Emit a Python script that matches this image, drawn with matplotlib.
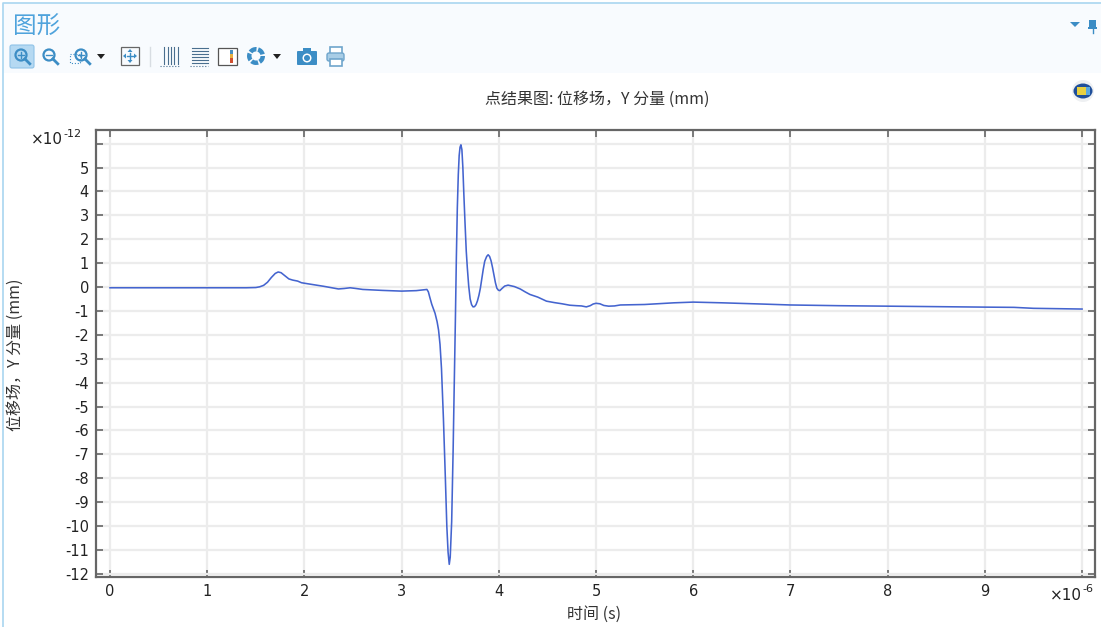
import matplotlib
matplotlib.use("Agg")
import matplotlib.pyplot as plt
from matplotlib.patches import Rectangle, Circle, Polygon, FancyBboxPatch, Ellipse, Wedge

plt.rcParams['font.family'] = ['DejaVu Sans', 'Noto Sans CJK SC']
plt.rcParams['axes.unicode_minus'] = False
CJK = ['Noto Sans CJK SC', 'DejaVu Sans']

# Data: time in units of 1e-6 s, displacement in units of 1e-12 mm
time_us = [0, 0.5, 1.0, 1.4, 1.5, 1.54, 1.58, 1.62, 1.66, 1.7, 1.73, 1.76, 1.8, 1.84, 1.88, 1.93, 1.97, 2.03,
           2.2, 2.35, 2.41, 2.47, 2.53, 2.6, 2.8, 3.0, 3.15, 3.24, 3.26, 3.275, 3.29, 3.31, 3.344, 3.365, 3.38,
           3.395, 3.41, 3.43, 3.45, 3.465, 3.478, 3.49, 3.50, 3.515, 3.53, 3.54, 3.553, 3.563, 3.573,
           3.583, 3.592, 3.601, 3.61, 3.62, 3.63, 3.64, 3.652, 3.665, 3.676, 3.69, 3.705, 3.72, 3.735,
           3.75, 3.765, 3.78, 3.795, 3.81, 3.825, 3.84, 3.855, 3.875, 3.89, 3.905, 3.92, 3.935, 3.95,
           3.965, 3.98, 3.995, 4.01, 4.03, 4.06, 4.095, 4.16, 4.22, 4.27, 4.32, 4.40, 4.49, 4.57, 4.65,
           4.73, 4.8, 4.85, 4.9, 4.94, 4.97, 5.0, 5.04, 5.08, 5.13, 5.19, 5.25,
           5.5, 5.8, 6.0, 6.3, 6.7, 7.0, 7.5, 8.0, 8.5, 9.0, 9.3, 9.5, 10.0]
disp = [-0.03, -0.03, -0.03, -0.03, -0.02, 0.01, 0.07, 0.2, 0.4, 0.57, 0.63, 0.6, 0.47, 0.34, 0.29, 0.25, 0.18, 0.14,
        0.03, -0.08, -0.06, -0.03, -0.06, -0.1, -0.14, -0.17, -0.15, -0.11, -0.1, -0.2, -0.43, -0.72, -1.1, -1.45, -1.8,
        -2.4, -3.4, -5.5, -8.0, -10.0, -11.1, -11.6, -11.3, -9.8, -6.8, -4.4, -1.4, 1.2, 3.3,
        4.7, 5.5, 5.85, 5.95, 5.75, 5.0, 3.9, 2.7, 1.5, 0.8, 0.05, -0.5, -0.74, -0.83,
        -0.82, -0.74, -0.58, -0.35, -0.05, 0.35, 0.75, 1.08, 1.28, 1.35, 1.28, 1.1, 0.82, 0.5,
        0.18, -0.05, -0.13, -0.15, -0.07, 0.04, 0.08, 0.02, -0.08, -0.2, -0.31, -0.42, -0.59, -0.65, -0.7,
        -0.76, -0.78, -0.79, -0.83, -0.78, -0.71, -0.68, -0.7, -0.77, -0.8, -0.79, -0.75,
        -0.73, -0.66, -0.63, -0.66, -0.71, -0.75, -0.78, -0.8, -0.82, -0.84, -0.85, -0.89, -0.92]
x_ticks = list(range(0, 11))
x_tick_labels = [str(v) for v in range(0, 10)] + ['']
y_ticks = list(range(-12, 7))
y_tick_labels = [str(v) for v in range(-12, 6)] + ['']

W, H = 1101, 627
fig = plt.figure(figsize=(W / 100, H / 100), dpi=100, facecolor='white')
L, R, T, B = 96, 1095, 130, 577
ax = fig.add_axes([L / W, 1 - B / H, (R - L) / W, (B - T) / H])
ax.plot(time_us, disp, color='#4464cf', lw=1.15, solid_joinstyle='round', zorder=3)
ax.set_xlim(-0.144, 10.133)
ax.set_ylim(-12.13, 6.57)
ax.set_xticks(x_ticks)
ax.set_xticklabels(x_tick_labels)
ax.set_yticks(y_ticks)
ax.set_yticklabels(y_tick_labels)
ax.grid(True, color='#ececec', lw=1.6, zorder=0)
ax.set_axisbelow(True)
ax.tick_params(direction='in', length=5, width=1.2, color='#666666', top=True, right=True,
               labelsize=10.5, labelcolor='#222222', pad=5)
for s in ax.spines.values():
    s.set_color('#666666')
    s.set_linewidth(1.6)
ax.set_xlabel('时间 (s)', family=CJK, fontsize=11.5, color='#333333')
ax.xaxis.set_label_coords(0.4985, (B - 614) / (B - T), transform=ax.transAxes)
ax.xaxis.label.set_va('center')
ax.set_ylabel('位移场，Y 分量 (mm)', family=CJK, fontsize=11.5, color='#333333')
ax.yaxis.set_label_coords((15 - L) / (R - L), 0.498)
ax.yaxis.label.set_va('center')

# Overlay in pixel coordinates for the application window around the chart
ov = fig.add_axes([0, 0, 1, 1], zorder=5)
ov.set_xlim(0, W)
ov.set_ylim(H, 0)
ov.axis('off')
ov.patch.set_alpha(0)
ov.add_patch(Rectangle((3, 3), W - 3, 70, fc='#f8fbfe', ec='none'))
ov.plot([2.5, 2.5, W], [H, 3, 3], color='#a9d6f0', lw=1.2)

BLUE = '#3c8dc5'
ov.text(13, 27, '图形', family=CJK, fontsize=17, color='#4fa3dc', va='center', ha='left')
ov.text(597, 99, '点结果图: 位移场，Y 分量 (mm)', family=CJK, fontsize=11.5, color='#333333',
        ha='center', va='center')
ov.text(31, 140, '×10', fontsize=11, color='#222222', va='center', ha='left')
ov.text(63, 134, '-12', fontsize=8, color='#222222', va='center', ha='left')
ov.text(1050, 596, '×10', fontsize=11, color='#222222', va='center', ha='left')
ov.text(1082, 589, '-6', fontsize=8, color='#222222', va='center', ha='left')


def lens(cx, cy, r=5.5):
    ov.add_patch(Circle((cx, cy), r, fc='none', ec=BLUE, lw=1.6))
    ov.plot([cx + r * 0.7, cx + r * 1.6], [cy + r * 0.7, cy + r * 1.6], color=BLUE, lw=2)


def arrow_down(cx, cy, c='#222222', s=4):
    ov.add_patch(Polygon([(cx - s, cy - 2), (cx + s, cy - 2), (cx, cy + 3)], fc=c, ec='none'))


ov.add_patch(FancyBboxPatch((10, 45), 24, 23, boxstyle='round,pad=0,rounding_size=2',
                            fc='#b5d9f2', ec='#8fc3e8', lw=0.8))
lens(21, 55)
ov.plot([18, 24], [55, 55], color=BLUE, lw=1)
ov.plot([21, 21], [52, 58], color=BLUE, lw=1)
lens(49, 55)
ov.plot([46, 52], [55, 55], color=BLUE, lw=1)
lens(81, 55)
ov.plot([78, 84], [55, 55], color=BLUE, lw=1)
ov.plot([81, 81], [52, 58], color=BLUE, lw=1)
ov.add_patch(Rectangle((70, 54), 10, 9, fc='none', ec=BLUE, lw=0.8, ls=':'))
arrow_down(101, 56)
ov.add_patch(Rectangle((121, 47), 18, 18, fc='none', ec='#666666', lw=0.9))
ov.add_patch(Polygon([(130, 49), (127.5, 52), (132.5, 52)], fc=BLUE, ec='none'))
ov.add_patch(Polygon([(130, 63), (127.5, 60), (132.5, 60)], fc=BLUE, ec='none'))
ov.add_patch(Polygon([(123, 56), (126, 53.5), (126, 58.5)], fc=BLUE, ec='none'))
ov.add_patch(Polygon([(137, 56), (134, 53.5), (134, 58.5)], fc=BLUE, ec='none'))
ov.plot([127, 133], [56, 56], color=BLUE, lw=1)
ov.plot([130, 130], [53, 59], color=BLUE, lw=1)
ov.plot([150, 150], [47, 66], color='#d8dde2', lw=1)
for px in (164, 168, 171, 174, 178):
    ov.plot([px, px], [47, 64], color='#4a6f8f', lw=0.8)
ov.plot([160, 179], [66, 66], color='#4a6f8f', lw=0.8, ls=':')
for py in (48, 51, 54, 57, 60, 63):
    ov.plot([192, 208], [py, py], color='#4a6f8f', lw=0.8)
ov.plot([190, 208], [66, 66], color='#4a6f8f', lw=0.8, ls=':')
ov.add_patch(Rectangle((218, 48), 19, 17, fc='white', ec='#555555', lw=0.9))
ov.add_patch(Rectangle((230, 50), 3, 4, fc='#4a90c0', ec='none'))
ov.add_patch(Rectangle((230, 54), 3, 4, fc='#e8b040', ec='none'))
ov.add_patch(Rectangle((230, 58), 3, 5, fc='#d05030', ec='none'))
for a in (0, 72, 144, 216, 288):
    ov.add_patch(Wedge((256, 56), 9, a, a + 58, width=4.5, fc=BLUE, ec='none'))
arrow_down(277, 56)
ov.add_patch(FancyBboxPatch((297, 51), 20, 14, boxstyle='round,pad=0,rounding_size=1', fc=BLUE, ec='none'))
ov.add_patch(Rectangle((303, 48), 8, 3, fc=BLUE, ec='none'))
ov.add_patch(Circle((307, 58), 4.5, fc='white', ec='none'))
ov.add_patch(Circle((307, 58), 3, fc=BLUE, ec='none'))
ov.add_patch(Rectangle((330, 47), 12, 7, fc='white', ec='#6fa5cc', lw=1.2))
ov.add_patch(FancyBboxPatch((327, 53), 17, 8, boxstyle='round,pad=0,rounding_size=2',
                            fc='#a8cde6', ec='#6fa5cc', lw=1))
ov.add_patch(Rectangle((330, 59), 12, 7, fc='white', ec='#6fa5cc', lw=1.2))
arrow_down(1075, 24, c=BLUE, s=5)
ov.add_patch(Rectangle((1089, 20), 7, 8, fc=BLUE, ec='none'))
ov.add_patch(Rectangle((1088, 26.5), 9, 2, fc=BLUE, ec='none'))
ov.plot([1092.5, 1092.5], [28, 33], color=BLUE, lw=1)
ov.add_patch(Circle((1083, 91), 11, fc='#eef0f2', ec='none'))
ov.add_patch(Ellipse((1083, 91), 19, 15, fc='#1f4f9a', ec='none'))
ov.add_patch(Rectangle((1077, 87), 9, 8, fc='#e8d040', ec='none'))
ov.add_patch(Rectangle((1086, 87), 4, 8, fc='#58a8e0', ec='none'))

fig.savefig('out.png', dpi=100)
